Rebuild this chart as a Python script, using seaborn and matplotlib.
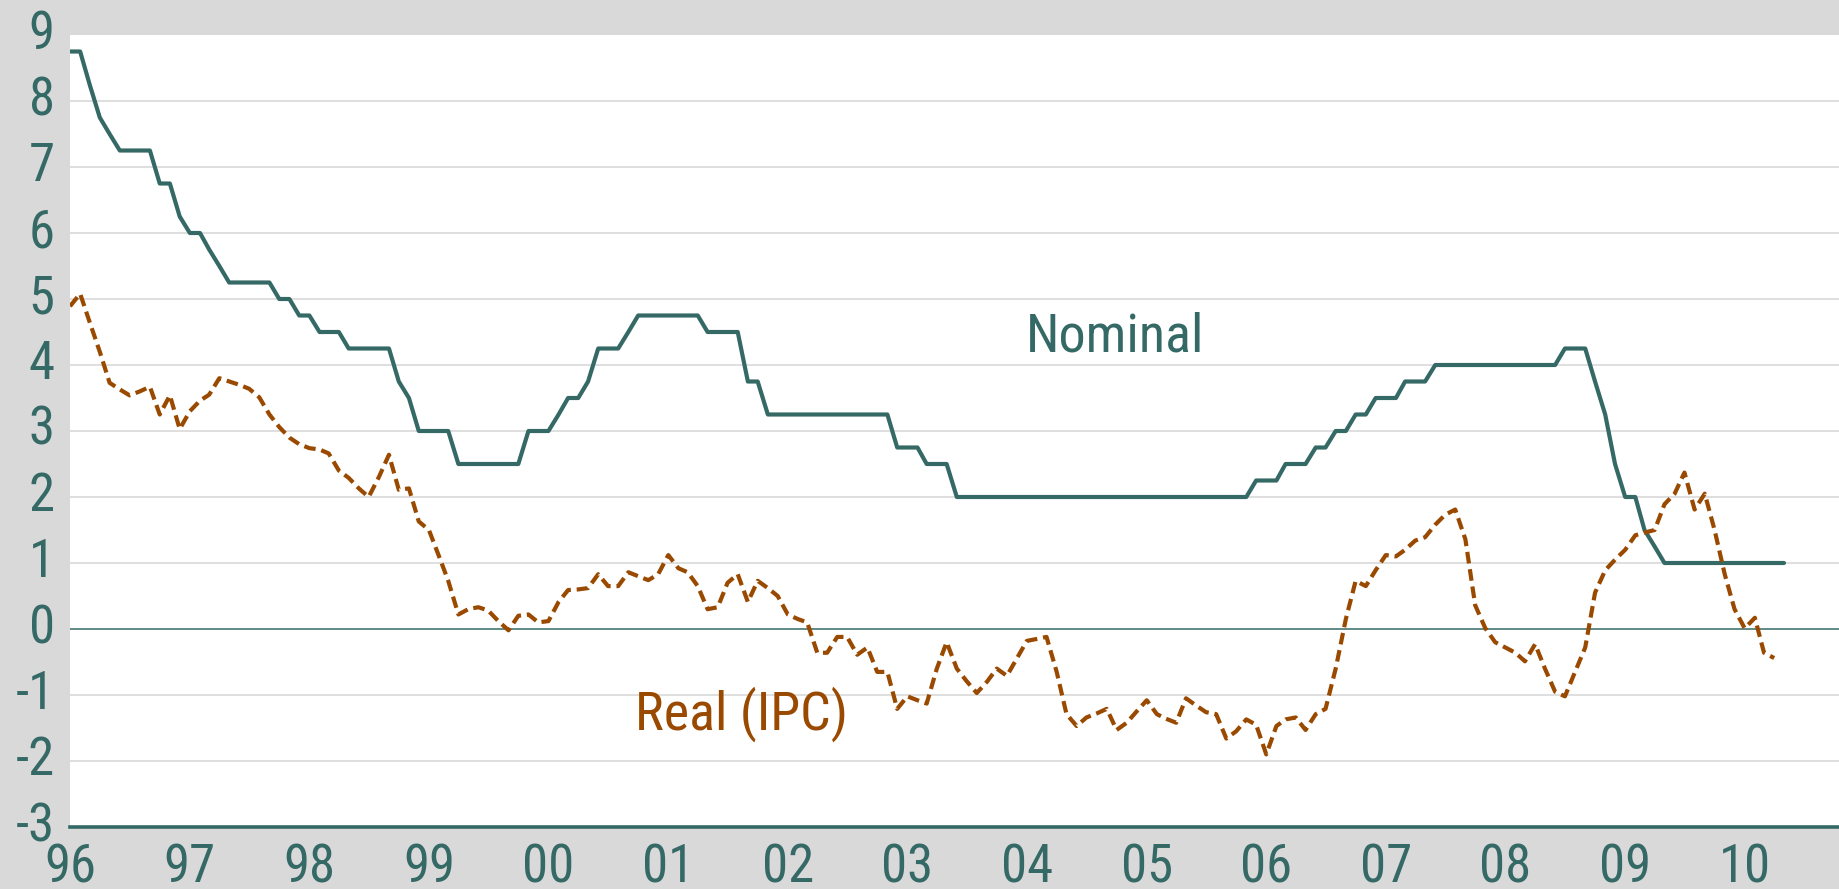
import matplotlib
matplotlib.use("Agg")
import matplotlib.pyplot as plt
import matplotlib.dates as mdates
import matplotlib.transforms as mtransforms
from matplotlib import font_manager
import seaborn as sns
import pandas as pd

# Monthly values from January 1996 onward (%)
nominal = [
    8.75, 8.75, 8.25, 7.75, 7.5, 7.25, 7.25, 7.25, 7.25, 6.75, 6.75, 6.25,   # 1996
    6.0, 6.0, 5.75, 5.5, 5.25, 5.25, 5.25, 5.25, 5.25, 5.0, 5.0, 4.75,       # 1997
    4.75, 4.5, 4.5, 4.5, 4.25, 4.25, 4.25, 4.25, 4.25, 3.75, 3.5, 3.0,       # 1998
    3.0, 3.0, 3.0, 2.5, 2.5, 2.5, 2.5, 2.5, 2.5, 2.5, 3.0, 3.0,              # 1999
    3.0, 3.25, 3.5, 3.5, 3.75, 4.25, 4.25, 4.25, 4.5, 4.75, 4.75, 4.75,      # 2000
    4.75, 4.75, 4.75, 4.75, 4.5, 4.5, 4.5, 4.5, 3.75, 3.75, 3.25, 3.25,      # 2001
    3.25, 3.25, 3.25, 3.25, 3.25, 3.25, 3.25, 3.25, 3.25, 3.25, 3.25, 2.75,  # 2002
    2.75, 2.75, 2.5, 2.5, 2.5, 2.0, 2.0, 2.0, 2.0, 2.0, 2.0, 2.0,            # 2003
    2.0, 2.0, 2.0, 2.0, 2.0, 2.0, 2.0, 2.0, 2.0, 2.0, 2.0, 2.0,              # 2004
    2.0, 2.0, 2.0, 2.0, 2.0, 2.0, 2.0, 2.0, 2.0, 2.0, 2.0, 2.25,             # 2005
    2.25, 2.25, 2.5, 2.5, 2.5, 2.75, 2.75, 3.0, 3.0, 3.25, 3.25, 3.5,        # 2006
    3.5, 3.5, 3.75, 3.75, 3.75, 4.0, 4.0, 4.0, 4.0, 4.0, 4.0, 4.0,           # 2007
    4.0, 4.0, 4.0, 4.0, 4.0, 4.0, 4.25, 4.25, 4.25, 3.75, 3.25, 2.5,         # 2008
    2.0, 2.0, 1.5, 1.25, 1.0, 1.0, 1.0, 1.0, 1.0, 1.0, 1.0, 1.0,             # 2009
    1.0, 1.0, 1.0, 1.0, 1.0,                                                 # 2010
]

real_ipc = [
    4.89, 5.08, 4.65, 4.20, 3.73, 3.63, 3.54, 3.60, 3.67, 3.25, 3.54, 3.03,          # 1996
    3.30, 3.46, 3.55, 3.80, 3.75, 3.70, 3.64, 3.51, 3.25, 3.06, 2.90, 2.80,          # 1997
    2.74, 2.72, 2.66, 2.40, 2.29, 2.13, 2.00, 2.30, 2.64, 2.11, 2.13, 1.63,          # 1998
    1.50, 1.10, 0.73, 0.22, 0.30, 0.33, 0.28, 0.12, -0.02, 0.20, 0.22, 0.10,         # 1999
    0.12, 0.41, 0.59, 0.60, 0.62, 0.83, 0.65, 0.65, 0.86, 0.80, 0.74, 0.83,          # 2000
    1.12, 0.92, 0.86, 0.65, 0.30, 0.33, 0.70, 0.83, 0.41, 0.73, 0.62, 0.50,          # 2001
    0.22, 0.15, 0.10, -0.36, -0.36, -0.12, -0.12, -0.39, -0.28, -0.65, -0.65, -1.21, # 2002
    -1.02, -1.08, -1.13, -0.60, -0.20, -0.60, -0.79, -0.97, -0.80, -0.60, -0.71, -0.45,  # 2003
    -0.18, -0.15, -0.12, -0.65, -1.29, -1.47, -1.34, -1.28, -1.21, -1.53, -1.42, -1.25,  # 2004
    -1.08, -1.29, -1.36, -1.42, -1.05, -1.16, -1.26, -1.29, -1.66, -1.55, -1.37, -1.45,  # 2005
    -1.90, -1.47, -1.37, -1.34, -1.53, -1.29, -1.21, -0.60, 0.15, 0.73, 0.65, 0.89,     # 2006
    1.12, 1.10, 1.20, 1.34, 1.39, 1.58, 1.73, 1.81, 1.36, 0.36, 0.01, -0.20,         # 2007
    -0.28, -0.36, -0.49, -0.23, -0.60, -0.95, -1.02, -0.65, -0.28, 0.55, 0.89, 1.05, # 2008
    1.20, 1.42, 1.46, 1.50, 1.89, 2.05, 2.37, 1.81, 2.05, 1.50, 0.83, 0.30,          # 2009
    0.01, 0.17, -0.36, -0.44,                                                        # 2010
]

months_nominal = pd.date_range("1996-01-01", periods=len(nominal), freq="MS")
months_real = pd.date_range("1996-01-01", periods=len(real_ipc), freq="MS")

teal = "#356966"
brown = "#9A4A00"
grey_bg = "#D9D9D9"

sns.set_style("white")

# the original uses an Arial Narrow style face; take the closest one installed
installed = {f.name for f in font_manager.fontManager.ttflist}
wanted = ["Liberation Sans Narrow", "Arial Narrow", "Nimbus Sans Narrow",
          "Roboto Condensed", "Archivo Narrow", "PT Sans Narrow"]
narrow = [n for n in wanted if n in installed]
plt.rcParams["font.family"] = narrow[:1] + ["DejaVu Sans"]
plt.rcParams["axes.unicode_minus"] = False  # plain hyphen like the original

fig = plt.figure(figsize=(18.4, 8.89), dpi=100, facecolor=grey_bg)
ax = fig.add_axes([70 / 1840, 62 / 889, 1770 / 1840, 792 / 889])
ax.set_facecolor("white")

# horizontal grid, zero line in teal
for y in range(-2, 9):
    if y != 0:
        ax.axhline(y, color="#DCDCDC", lw=1.3, zorder=1)
ax.axhline(0, color=teal, lw=1.1, zorder=2)

sns.lineplot(x=months_nominal, y=nominal, ax=ax, color=teal, lw=3.0, zorder=3)
sns.lineplot(x=months_real, y=real_ipc, ax=ax, color=brown, lw=3.0, zorder=4)
ax.lines[-1].set_dashes((2.8, 1.4))
ax.lines[-1].set_dash_capstyle("butt")

ax.set_xlim(pd.Timestamp("1996-01-01"), pd.Timestamp("2010-10-19"))
ax.set_ylim(-3, 9)
ax.set_yticks(range(-3, 10))
ax.xaxis.set_major_locator(mdates.YearLocator())
ax.xaxis.set_major_formatter(mdates.DateFormatter("%y"))
ax.set_xlabel("")
ax.set_ylabel("")

ax.tick_params(axis="x", direction="in", length=7, width=1.1, color="#6A9291",
               pad=11, labelsize=38, labelcolor=teal)
ax.tick_params(axis="y", length=0, pad=11, labelsize=38, labelcolor=teal)

# y labels sit a little above their gridlines in the original
lift = mtransforms.ScaledTranslation(0, 6 / 100, fig.dpi_scale_trans)
for lab in ax.get_yticklabels():
    lab.set_transform(lab.get_transform() + lift)

for side in ["left", "top", "right"]:
    ax.spines[side].set_visible(False)
ax.spines["bottom"].set_color(teal)
ax.spines["bottom"].set_linewidth(2.6)

ax.text(mdates.date2num(pd.Timestamp("2003-12-28")), 4.21, "Nominal",
        color=teal, fontsize=39, ha="left", va="baseline")
ax.text(mdates.date2num(pd.Timestamp("2000-09-20")), -1.52, "Real (IPC)",
        color=brown, fontsize=39, ha="left", va="baseline")

fig.savefig("out.png", dpi=100, facecolor=grey_bg)
